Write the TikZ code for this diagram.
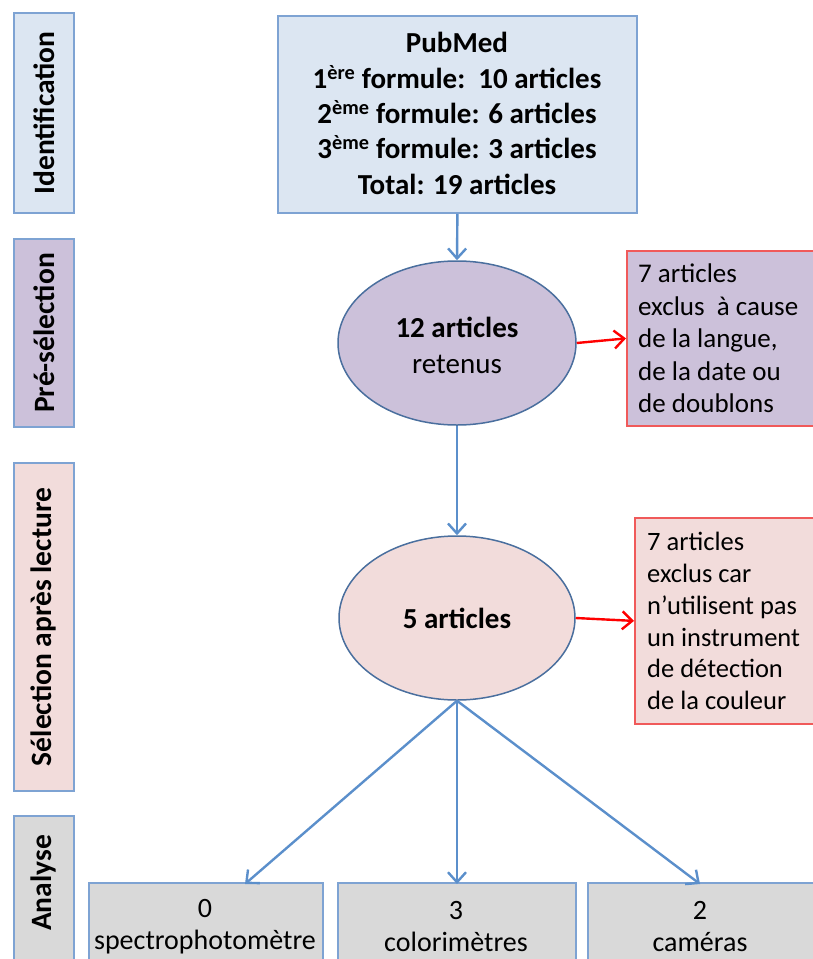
\documentclass[tikz,border=0pt]{standalone}
\usepackage{fontspec}
\setmainfont{Carlito}
\usetikzlibrary{arrows.meta,shapes.geometric}
\definecolor{bluefill}{HTML}{DCE6F2}
\definecolor{blueline}{HTML}{7EA3D3}
\definecolor{purplefill}{HTML}{CCC1DA}
\definecolor{pinkfill}{HTML}{F2DCDB}
\definecolor{greyfill}{HTML}{D9D9D9}
\definecolor{ellline}{HTML}{4A6F9E}
\definecolor{arrowblue}{HTML}{5B8FCB}
\definecolor{redline}{HTML}{F05A5A}
\tikzset{
  txt/.style={font=\fontsize{29}{35}\selectfont\bfseries},
  sidetxt/.style={font=\fontsize{29.5}{32}\selectfont\bfseries, rotate=90},
  sidebox/.style={draw=blueline, line width=1.8pt, minimum width=60pt, anchor=north west, inner sep=0pt},
  redbox/.style={draw=redline, line width=1.8pt, anchor=north west, inner sep=0pt},
  redtxt/.style={align=left, anchor=north west, inner sep=0pt},
  oval/.style={ellipse, draw=ellline, line width=1.5pt, inner sep=0pt},
  greybox/.style={draw=blueline, fill=greyfill, line width=1.8pt, anchor=north west, inner sep=0pt},
  greytxt/.style={align=center, font=\fontsize{28}{32}\selectfont},
  barrow/.style={draw=arrowblue, line width=2.4pt, -{Straight Barb[length=10pt,width=18pt,line width=2.4pt]}},
  rarrow/.style={draw=red, line width=2.4pt, -{Straight Barb[length=10pt,width=18pt,line width=2.4pt]}}
}
\begin{document}
\begin{tikzpicture}[x=1pt,y=-1pt]
\useasboundingbox (0,0) rectangle (813,959);
\clip (0,0) rectangle (813,959);
% side labels
\node[sidebox, fill=bluefill, minimum height=200pt] (sid) at (13,12) {};
\node[sidetxt] at (sid.center) {Identification};
\node[sidebox, fill=purplefill, minimum height=188pt] (spre) at (13,238) {};
\node[sidetxt] at (spre.center) {Pré-sélection};
\node[sidebox, fill=pinkfill, minimum height=328pt] (ssel) at (13,462) {};
\node[sidetxt] at (ssel.center) {Sélection après lecture};
\node[sidebox, fill=greyfill, minimum height=160pt] (sana) at (13,815) {};
\node[sidetxt] at (43,883) {Analyse};
% top box
\node[draw=blueline, fill=bluefill, line width=1.8pt, minimum width=359pt, minimum height=197pt, anchor=north west, inner sep=0pt] (pub) at (277,15) {};
\node[txt, align=center, font=\fontsize{29}{35.3}\selectfont\bfseries] at (457,113.5) {PubMed\\1\textsuperscript{ère} formule:\ \ 10 articles\\2\textsuperscript{ème} formule: 6 articles\\3\textsuperscript{ème} formule: 3 articles\\Total: 19 articles};
% ellipse 1
\node[oval, fill=purplefill, minimum width=238pt, minimum height=164pt] (e1) at (457,343) {};
\node[align=center, font=\fontsize{29}{36}\selectfont] at (457,345) {\textbf{12 articles}\\retenus};
% red box 1
\node[redbox, fill=purplefill, minimum width=190pt, minimum height=175pt] (r1) at (626,250) {};
\node[redtxt, font=\fontsize{27}{32.5}\selectfont] at (638,264) {7 articles\\exclus\ \ à cause\\de la langue,\\de la date ou\\de doublons};
% ellipse 2
\node[oval, fill=pinkfill, minimum width=236pt, minimum height=164pt] (e2) at (457,618) {};
\node[txt] at (457,618) {5 articles};
% red box 2
\node[redbox, fill=pinkfill, minimum width=182pt, minimum height=206pt] (r2) at (634,517) {};
\node[redtxt, font=\fontsize{26.5}{31.8}\selectfont] at (647,532) {7 articles\\exclus car\\n’utilisent pas\\un instrument\\de détection\\de la couleur};
% bottom boxes
\node[greybox, minimum width=234pt, minimum height=90pt] (b1) at (88,882) {};
\node[greybox, minimum width=238pt, minimum height=90pt] (b2) at (337,882) {};
\node[greybox, minimum width=228pt, minimum height=90pt] (b3) at (587,882) {};
\node[greytxt] at (205,927) {0\\spectrophotomètre};
\node[greytxt] at (456,927) {3\\colorimètres};
\node[greytxt] at (700,927) {2\\caméras};
% connectors
\coordinate (b1t) at (245,884);
\coordinate (b2t) at (457,884);
\coordinate (b3t) at (700,884);
\draw[barrow] (pub.south) -- (e1.north);
\draw[barrow] (e1.south) -- (e2.north);
\draw[rarrow] (e1.east) -- (r1.west);
\draw[rarrow] (e2.east) -- (r2.west);
\draw[barrow] (e2.south) -- (b1t);
\draw[barrow] (e2.south) -- (b2t);
\draw[barrow] (e2.south) -- (b3t);
\end{tikzpicture}
\end{document}
